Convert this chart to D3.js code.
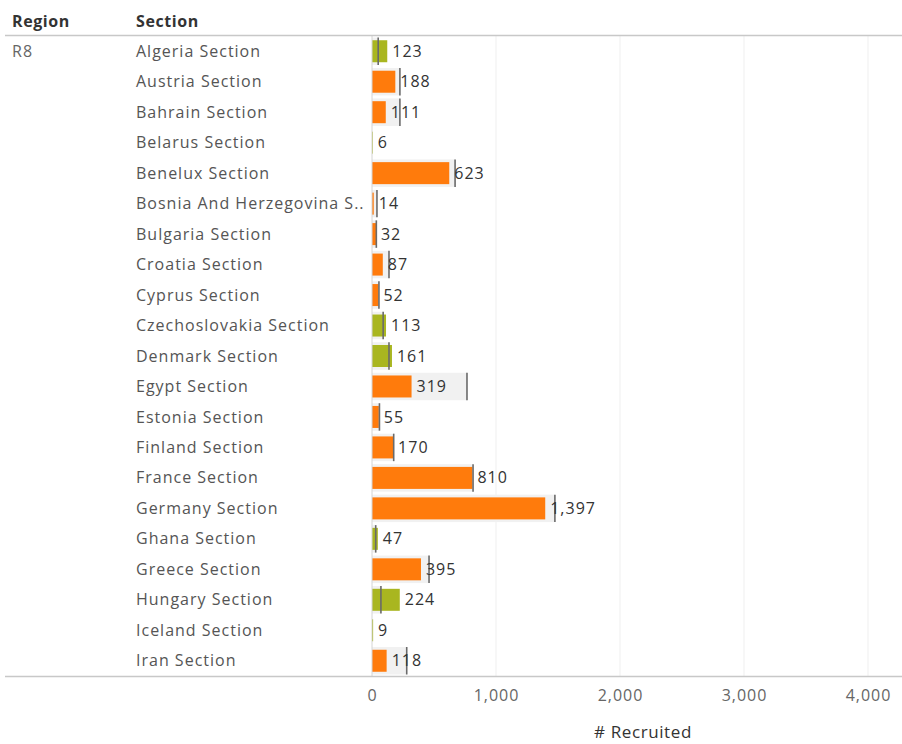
<!DOCTYPE html>
<html>
<head>
<meta charset="utf-8">
<script src="https://cdn.jsdelivr.net/npm/d3@7"></script>
<style>
  body { margin: 0; background: #fff; }
  text { font-family: "Open Sans", "Noto Sans", sans-serif; letter-spacing: 1px; }
</style>
</head>
<body>
<div class="canvas"></div>
<script>
const sections = ['Algeria Section','Austria Section','Bahrain Section','Belarus Section','Benelux Section',
  'Bosnia And Herzegovina S..','Bulgaria Section','Croatia Section','Cyprus Section','Czechoslovakia Section',
  'Denmark Section','Egypt Section','Estonia Section','Finland Section','France Section','Germany Section',
  'Ghana Section','Greece Section','Hungary Section','Iceland Section','Iran Section'];
const recruited = [123,188,111,6,623,14,32,87,52,113,161,319,55,170,810,1397,47,395,224,9,118];
const targets   = [50,225,225,0,670,40,35,137,56,90,137,766,60,175,815,1475,30,460,72,0,280];
const ticks = [0,1000,2000,3000,4000];

const dims = { width: 902, height: 744 };
const plot = { left: 372, right: 899, top: 36, bottom: 676 };

const svg = d3.select('.canvas')
  .append('svg')
    .attr('width', dims.width)
    .attr('height', dims.height);

const x = d3.scaleLinear().domain([0, 4250]).range([plot.left, plot.right]);
const y = d3.scaleBand().domain(sections).range([plot.top, plot.bottom]).paddingInner(0).paddingOuter(0);

//gridlines
svg.append('g').selectAll('line')
  .data(ticks.slice(1))
  .enter().append('line')
    .attr('x1', d => x(d)).attr('x2', d => x(d))
    .attr('y1', plot.top).attr('y2', plot.bottom)
    .attr('stroke', '#efefef').attr('stroke-width', 1);

const rows = svg.append('g').selectAll('g')
  .data(sections.map((s, i) => ({ s, v: recruited[i], t: targets[i] })))
  .enter().append('g')
    .attr('transform', d => `translate(0,${y(d.s)})`);

const bh = y.bandwidth();

//band 0 -> target
rows.append('rect')
  .attr('x', x(0))
  .attr('y', 1.5)
  .attr('width', d => x(d.t) - x(0))
  .attr('height', bh - 3)
  .attr('fill', '#f1f1f1');

//bars
rows.append('rect')
  .attr('x', x(0))
  .attr('y', (bh - 22) / 2)
  .attr('width', d => x(d.v) - x(0))
  .attr('height', 22)
  .attr('fill', d => d.v >= d.t ? '#a9b620' : '#ff7b0c');

//target lines
rows.filter(d => d.t > 0).append('line')
  .attr('x1', d => x(d.t)).attr('x2', d => x(d.t))
  .attr('y1', 1.5).attr('y2', bh - 1.5)
  .attr('stroke', '#6a6a6a').attr('stroke-width', 1.6);

//value labels
rows.append('text')
  .attr('x', d => x(d.v) + 5)
  .attr('y', bh / 2)
  .attr('dy', '0.35em')
  .attr('font-size', 16)
  .attr('fill', '#333')
  .text(d => d3.format(',')(d.v));

//section labels
rows.append('text')
  .attr('x', 136)
  .attr('y', bh / 2)
  .attr('dy', '0.35em')
  .attr('font-size', 16)
  .attr('fill', '#555')
  .text(d => d.s);

//zero line
svg.append('line')
  .attr('x1', x(0)).attr('x2', x(0))
  .attr('y1', plot.top).attr('y2', plot.bottom)
  .attr('stroke', '#d4d4d4');

//header
svg.append('text').attr('x', 12).attr('y', 27).attr('font-size', 16).attr('font-weight', 'bold').attr('fill', '#333').style('letter-spacing', '0.6px').text('Region');
svg.append('text').attr('x', 136).attr('y', 27).attr('font-size', 16).attr('font-weight', 'bold').attr('fill', '#333').style('letter-spacing', '0.6px').text('Section');
svg.append('line').attr('x1', 5).attr('x2', 902).attr('y1', plot.top - 0.5).attr('y2', plot.top - 0.5).attr('stroke', '#c8c8c8').attr('stroke-width', 1.5);
svg.append('text').attr('x', 12).attr('y', y(sections[0]) + bh / 2).attr('dy', '0.35em').attr('font-size', 16).attr('fill', '#666').text('R8');

//bottom axis
svg.append('line').attr('x1', 5).attr('x2', 902).attr('y1', plot.bottom + 0.5).attr('y2', plot.bottom + 0.5).attr('stroke', '#c8c8c8').attr('stroke-width', 1.5);
const axis = svg.append('g')
  .attr('transform', `translate(0,${plot.bottom})`)
  .call(d3.axisBottom(x).tickValues(ticks).tickSize(0).tickPadding(14).tickFormat(d3.format(',')));
axis.select('.domain').remove();
axis.selectAll('text').attr('font-size', 16).attr('fill', '#666').style('font-family', '"Open Sans", "Noto Sans", sans-serif');

svg.append('text')
  .attr('x', 643).attr('y', 738)
  .attr('text-anchor', 'middle')
  .attr('font-size', 17).attr('fill', '#333')
  .style('letter-spacing', '0.6px')
  .text('# Recruited');
</script>
</body>
</html>
